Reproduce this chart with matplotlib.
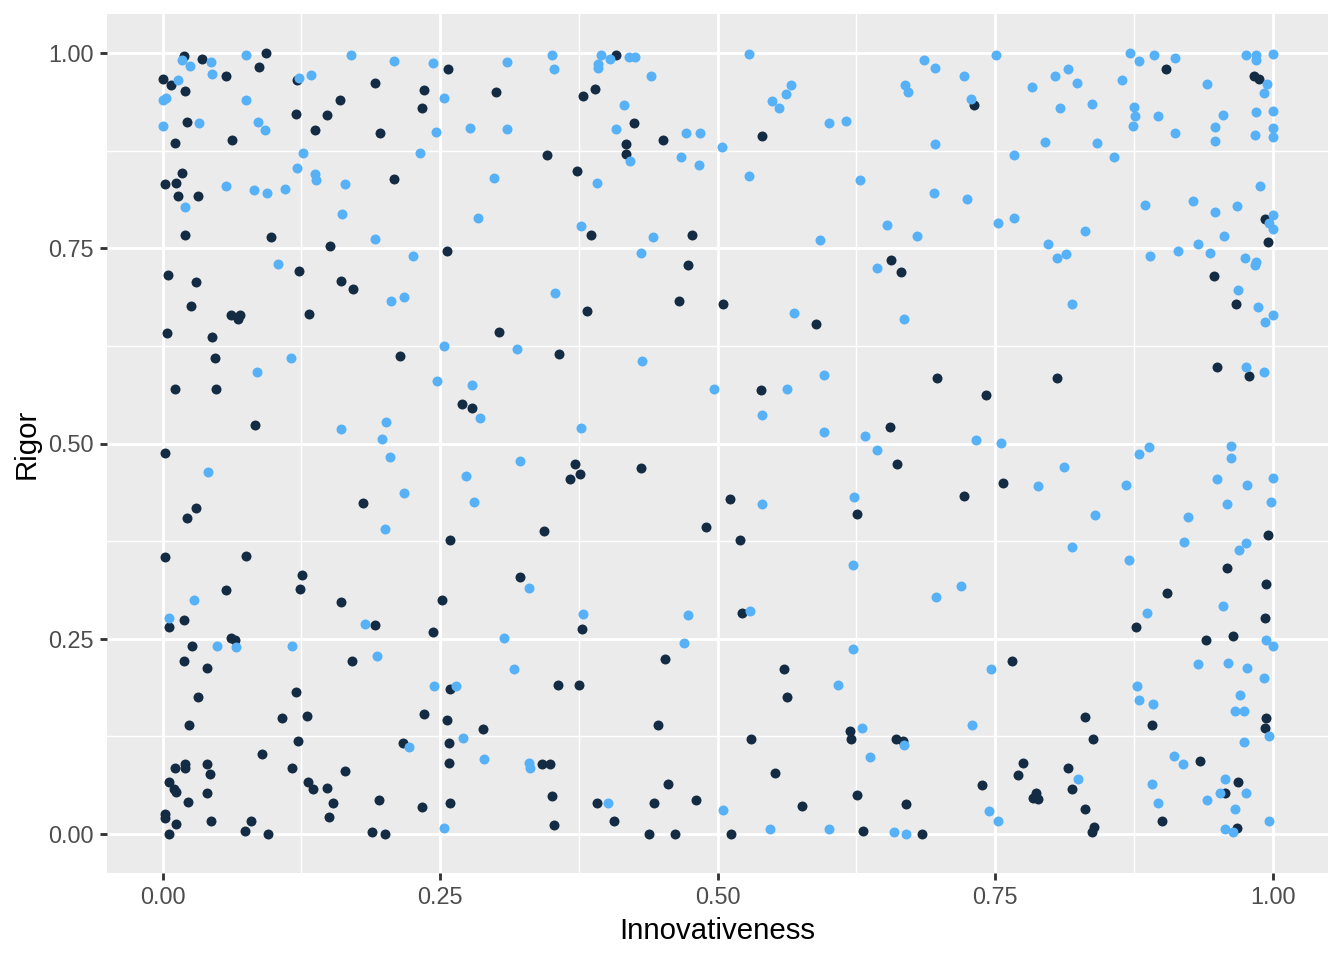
import matplotlib
matplotlib.use("Agg")
import matplotlib.pyplot as plt
import numpy as np

plt.rcParams['font.family'] = ['Liberation Sans', 'DejaVu Sans']

# ---- data (Innovativeness, Rigor) ----
dark_innov = [0.019,0.036,0.093,0.087,0.057,0.000,0.008,0.020,0.121,0.191,0.236,0.234,0.160,0.120,0.148,0.137,0.196,0.022,0.011,0.063,0.209,0.018,0.002,0.012,0.014,0.032,0.020,0.098,0.151,0.123,0.005,0.030,0.161,0.172,0.026,
              0.257,0.409,0.300,0.379,0.390,0.425,0.451,0.418,0.418,0.346,0.373,0.386,0.477,0.256,0.473,0.465,
              0.540,0.731,0.656,0.665,0.505,
              0.904,0.983,0.988,0.993,0.996,0.947,0.967,
              0.062,0.070,0.068,0.132,0.004,0.045,0.047,0.214,0.011,0.048,0.083,0.002,0.181,0.030,0.022,0.002,0.075,0.126,
              0.382,0.303,0.357,0.270,0.279,0.372,0.376,0.367,0.431,0.344,0.259,0.490,0.322,
              0.589,0.539,0.698,0.742,0.655,0.662,0.511,0.626,0.722,0.520,
              0.950,0.979,0.806,0.757,0.996,0.959,
              0.124,0.057,0.161,0.006,0.019,0.191,0.062,0.065,0.027,0.019,0.040,0.171,0.120,0.032,0.108,0.130,0.236,0.024,0.122,0.217,0.090,0.011,0.020,0.020,0.040,0.043,0.117,0.164,0.006,0.010,0.012,0.040,0.023,0.131,0.136,0.148,0.154,0.195,0.234,0.002,0.002,0.012,0.006,0.044,0.080,0.074,0.095,0.150,0.189,0.200,
              0.252,0.244,0.378,0.453,0.259,0.356,0.375,0.256,0.289,0.258,0.446,0.258,0.342,0.349,0.455,0.351,0.391,0.443,0.481,0.259,0.353,0.407,0.438,0.462,
              0.522,0.560,0.563,0.619,0.620,0.530,0.661,0.667,0.552,0.738,0.626,0.576,0.670,0.512,0.631,0.684,
              0.994,0.905,0.993,0.877,0.940,0.964,0.765,0.994,0.993,0.831,0.838,0.891,0.775,0.771,0.816,0.819,0.787,0.784,0.789,0.831,0.839,0.837,0.935,0.900,0.969,0.957,0.968]
dark_rigor = [0.996,0.993,1.000,0.982,0.970,0.967,0.959,0.952,0.965,0.962,0.953,0.929,0.940,0.922,0.921,0.901,0.898,0.912,0.885,0.889,0.839,0.846,0.832,0.833,0.817,0.817,0.767,0.764,0.753,0.721,0.716,0.707,0.708,0.698,0.676,
              0.980,0.997,0.950,0.945,0.954,0.911,0.889,0.883,0.871,0.869,0.849,0.767,0.767,0.746,0.729,0.683,
              0.894,0.934,0.735,0.719,0.679,
              0.979,0.970,0.967,0.788,0.758,0.715,0.678,
              0.665,0.665,0.660,0.666,0.641,0.637,0.610,0.612,0.570,0.570,0.524,0.488,0.424,0.417,0.404,0.355,0.356,0.331,
              0.670,0.643,0.614,0.550,0.546,0.474,0.461,0.455,0.468,0.388,0.377,0.393,0.329,
              0.653,0.569,0.584,0.562,0.521,0.474,0.429,0.410,0.433,0.376,
              0.598,0.586,0.584,0.449,0.383,0.341,
              0.314,0.312,0.297,0.265,0.274,0.268,0.251,0.248,0.241,0.221,0.212,0.222,0.182,0.175,0.149,0.151,0.154,0.140,0.119,0.116,0.103,0.085,0.089,0.085,0.089,0.077,0.084,0.080,0.066,0.058,0.054,0.052,0.041,0.067,0.058,0.059,0.040,0.044,0.034,0.025,0.021,0.013,0.000,0.017,0.017,0.004,0.000,0.022,0.002,0.000,
              0.300,0.258,0.262,0.224,0.186,0.191,0.191,0.146,0.134,0.116,0.140,0.091,0.090,0.089,0.064,0.049,0.040,0.040,0.044,0.040,0.012,0.016,0.000,0.000,
              0.283,0.211,0.175,0.132,0.121,0.122,0.121,0.119,0.078,0.063,0.050,0.036,0.038,0.000,0.004,0.000,
              0.320,0.309,0.277,0.265,0.249,0.254,0.222,0.149,0.136,0.150,0.122,0.139,0.091,0.075,0.085,0.058,0.053,0.046,0.045,0.032,0.009,0.002,0.094,0.016,0.066,0.052,0.008]

light_innov = [0.018,0.025,0.044,0.075,0.045,0.014,0.000,0.003,0.075,0.123,0.134,0.170,0.209,0.033,0.000,0.086,0.092,0.127,0.232,0.121,0.137,0.138,0.164,0.020,0.057,0.082,0.094,0.110,0.162,0.191,0.226,0.104,0.206,0.218,
               0.244,0.310,0.351,0.353,0.395,0.403,0.392,0.392,0.420,0.426,0.440,0.254,0.416,0.246,0.277,0.310,0.409,0.472,0.484,0.421,0.467,0.483,0.299,0.391,0.284,0.377,0.442,0.431,0.354,
               0.528,0.566,0.562,0.549,0.555,0.600,0.616,0.504,0.686,0.696,0.722,0.669,0.672,0.728,0.696,0.751,0.528,0.628,0.695,0.725,0.653,0.680,0.753,0.592,0.644,
               0.872,0.880,0.893,0.912,0.976,0.985,0.985,1.000,0.995,0.992,0.941,0.816,0.804,0.824,0.783,0.864,0.809,0.837,0.875,0.876,0.897,0.874,0.912,0.955,0.948,0.948,0.985,1.000,0.984,1.000,1.000,0.795,0.842,0.767,0.857,0.989,0.885,0.928,0.948,0.968,1.000,0.997,1.000,0.767,0.831,0.798,0.806,0.814,0.890,0.915,0.933,0.944,0.956,0.975,0.985,0.984,0.969,0.987,0.819,
               0.116,0.085,0.161,0.201,0.198,0.205,0.041,0.218,0.200,
               0.254,0.319,0.432,0.247,0.279,0.286,0.377,0.322,0.273,0.281,
               0.569,0.668,0.596,0.497,0.563,0.540,0.596,0.633,0.733,0.755,0.644,0.540,0.623,0.622,
               1.000,0.993,0.976,0.992,0.889,0.880,0.963,0.963,0.812,0.789,0.868,0.950,0.977,1.000,0.959,0.999,0.840,0.924,0.920,0.976,0.970,0.819,0.871,
               0.028,0.006,0.182,0.049,0.066,0.117,0.193,0.222,
               0.330,0.379,0.473,0.308,0.470,0.317,0.245,0.264,0.271,0.290,0.330,0.331,0.401,0.254,
               0.529,0.697,0.719,0.622,0.746,0.609,0.729,0.630,0.668,0.637,0.745,0.753,0.505,0.547,0.600,0.659,0.670,
               0.955,0.887,0.994,1.000,0.933,0.960,0.977,0.992,0.878,0.880,0.892,0.971,0.966,0.974,0.997,0.974,0.825,0.911,0.919,0.891,0.897,0.941,0.957,0.953,0.976,0.966,0.997,0.957,0.964]
light_rigor = [0.991,0.984,0.989,0.998,0.973,0.966,0.940,0.942,0.940,0.968,0.972,0.997,0.990,0.911,0.906,0.912,0.902,0.872,0.872,0.853,0.845,0.837,0.832,0.803,0.830,0.824,0.821,0.826,0.794,0.762,0.740,0.730,0.682,0.687,
               0.987,0.988,0.997,0.980,0.998,0.993,0.986,0.981,0.995,0.995,0.971,0.943,0.934,0.899,0.904,0.903,0.903,0.897,0.898,0.862,0.867,0.856,0.840,0.834,0.789,0.779,0.764,0.744,0.693,
               0.999,0.959,0.948,0.939,0.930,0.911,0.913,0.880,0.991,0.981,0.971,0.959,0.950,0.941,0.884,0.998,0.843,0.838,0.821,0.813,0.780,0.766,0.783,0.760,0.725,
               1.000,0.990,0.998,0.994,0.997,0.998,0.991,0.999,0.961,0.949,0.961,0.979,0.970,0.962,0.956,0.965,0.930,0.935,0.931,0.920,0.920,0.907,0.898,0.921,0.905,0.888,0.925,0.926,0.895,0.904,0.892,0.886,0.885,0.869,0.867,0.830,0.806,0.810,0.797,0.804,0.793,0.783,0.775,0.789,0.772,0.756,0.738,0.743,0.740,0.746,0.756,0.744,0.766,0.737,0.733,0.729,0.696,0.675,0.679,
               0.610,0.591,0.519,0.528,0.506,0.483,0.463,0.436,0.391,
               0.625,0.621,0.606,0.580,0.575,0.533,0.520,0.477,0.459,0.425,
               0.667,0.659,0.588,0.570,0.570,0.537,0.515,0.510,0.505,0.501,0.492,0.422,0.432,0.345,
               0.664,0.655,0.598,0.591,0.495,0.487,0.497,0.481,0.470,0.445,0.447,0.454,0.447,0.456,0.422,0.425,0.408,0.406,0.374,0.373,0.364,0.367,0.351,
               0.299,0.276,0.269,0.241,0.239,0.241,0.228,0.111,
               0.315,0.282,0.280,0.251,0.244,0.211,0.190,0.189,0.123,0.096,0.091,0.084,0.039,0.007,
               0.286,0.303,0.318,0.237,0.211,0.191,0.140,0.136,0.114,0.099,0.029,0.016,0.031,0.006,0.006,0.002,0.000,
               0.292,0.283,0.249,0.241,0.218,0.219,0.212,0.200,0.189,0.171,0.166,0.178,0.158,0.158,0.125,0.118,0.070,0.100,0.089,0.064,0.039,0.043,0.070,0.053,0.053,0.032,0.016,0.006,0.003]

x_ticks = [0.00, 0.25, 0.50, 0.75, 1.00]
y_ticks = [0.00, 0.25, 0.50, 0.75, 1.00]
tick_labels = ["0.00", "0.25", "0.50", "0.75", "1.00"]

dark_col = "#132B43"
light_col = "#56B1F7"

fig = plt.figure(figsize=(7, 5), dpi=192)
ax = fig.add_axes([107/1344, 1 - 873/960, (1328 - 107)/1344, (873 - 14)/960])
ax.set_facecolor("#EBEBEB")

ax.set_xlim(-0.05, 1.05)
ax.set_ylim(-0.05, 1.05)

minor = [-0.125 + 0.25 * i for i in range(6)]
for v in minor:
    ax.axvline(v, color="white", lw=0.53, zorder=0)
    ax.axhline(v, color="white", lw=0.53, zorder=0)
for v in x_ticks:
    ax.axvline(v, color="white", lw=1.07, zorder=0)
for v in y_ticks:
    ax.axhline(v, color="white", lw=1.07, zorder=0)

ax.scatter(dark_innov, dark_rigor, s=14, c=dark_col, linewidths=0, zorder=2)
ax.scatter(light_innov, light_rigor, s=14, c=light_col, linewidths=0, zorder=2)

ax.set_xticks(x_ticks)
ax.set_xticklabels(tick_labels)
ax.set_yticks(y_ticks)
ax.set_yticklabels(tick_labels)
ax.tick_params(axis="both", length=2.75, width=1.07, color="#333333",
               labelsize=8.8, labelcolor="#4D4D4D", pad=2.2)
for sp in ax.spines.values():
    sp.set_visible(False)

ax.set_xlabel("Innovativeness", fontsize=11, color="black", labelpad=2.75)
ax.set_ylabel("Rigor", fontsize=11, color="black", labelpad=2.75)

fig.savefig("out.png", dpi=192, facecolor="white")
